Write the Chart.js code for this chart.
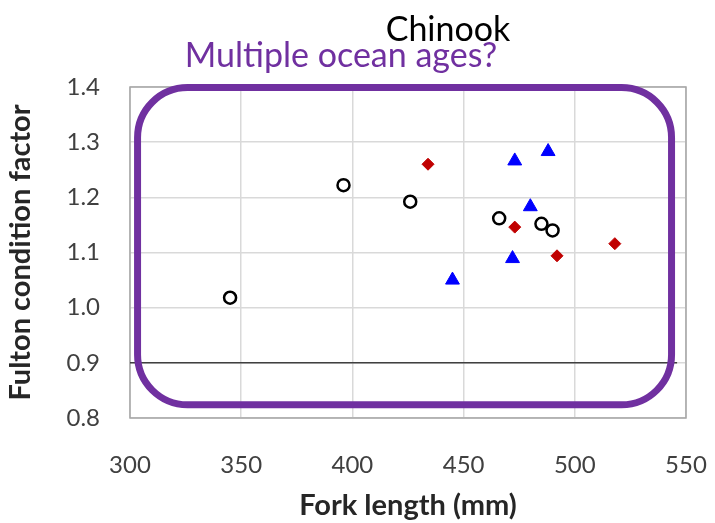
<!DOCTYPE html>
<html>
<head>
<meta charset="utf-8">
<script src="https://cdn.jsdelivr.net/npm/chart.js@4"></script>
<style>
  html, body { margin: 0; padding: 0; background: #fff; }
  #wrap { width: 715px; height: 523px; }
</style>
</head>
<body>
<div id="wrap"><canvas id="chart" width="715" height="523"></canvas></div>
<script>
// values
const circleLength = [345, 396, 426, 466, 485, 490];
const circleFactor = [1.018, 1.222, 1.192, 1.162, 1.152, 1.140];

const triangleLength = [473, 488, 480, 472, 445];
const triangleFactor = [1.266, 1.283, 1.183, 1.089, 1.050];

const diamondLength = [434, 473, 492, 518];
const diamondFactor = [1.260, 1.146, 1.094, 1.116];

const refLineLength = [300, 546];
const refLineFactor = [0.9, 0.9];

const xTicks = [300, 350, 400, 450, 500, 550];
const yTicks = [0.8, 0.9, 1.0, 1.1, 1.2, 1.3, 1.4];

const toPoints = (xs, ys) => xs.map((x, i) => ({ x: x, y: ys[i] }));

const purple = "#7030A0";

// titles, plot border and the purple box drawn on top
const overlay = {
  id: "overlay",
  beforeDatasetsDraw(chart) {
    const { ctx, chartArea: a } = chart;
    ctx.save();
    ctx.strokeStyle = "#a6a6a6";
    ctx.lineWidth = 1.5;
    ctx.strokeRect(a.left, a.top, a.right - a.left, a.bottom - a.top);
    ctx.restore();
  },
  afterDatasetsDraw(chart) {
    const { ctx, scales } = chart;
    const x = scales.x, y = scales.y;
    ctx.save();
    // purple rounded box, placed in data units
    const l = x.getPixelForValue(303.4), r = x.getPixelForValue(543.5);
    const t = y.getPixelForValue(1.399), b = y.getPixelForValue(0.824);
    ctx.strokeStyle = purple;
    ctx.lineWidth = 7;
    ctx.beginPath();
    ctx.roundRect(l, t, r - l, b - t, 50);
    ctx.stroke();

    ctx.textAlign = "center";
    ctx.textBaseline = "middle";
    ctx.fillStyle = "#000";
    ctx.font = "34px Lato";
    ctx.fillText("Chinook", 448, 30);
    ctx.fillStyle = purple;
    ctx.font = "34px Lato";
    ctx.fillText("Multiple ocean ages?", 341, 56);
    ctx.restore();
  }
};

const ctx = document.getElementById("chart").getContext("2d");
new Chart(ctx, {
  type: "scatter",
  data: {
    datasets: [
      {
        label: "ref",
        type: "line",
        data: toPoints(refLineLength, refLineFactor),
        borderColor: "#404040",
        borderWidth: 1.5,
        pointRadius: 0,
        fill: false,
      },
      {
        label: "circles",
        data: toPoints(circleLength, circleFactor),
        pointStyle: "circle",
        pointRadius: 6,
        pointBackgroundColor: "#fff",
        pointBorderColor: "#000",
        pointBorderWidth: 2.5,
      },
      {
        label: "triangles",
        data: toPoints(triangleLength, triangleFactor),
        pointStyle: "triangle",
        pointRadius: 8,
        pointBackgroundColor: "#0000ff",
        pointBorderColor: "#0000ff",
        pointBorderWidth: 1,
      },
      {
        label: "diamonds",
        data: toPoints(diamondLength, diamondFactor),
        pointStyle: "rectRot",
        pointRadius: 6,
        pointBackgroundColor: "#c00000",
        pointBorderColor: "#c00000",
        pointBorderWidth: 1,
      },
    ],
  },
  options: {
    responsive: false,
    animation: false,
    layout: { padding: { top: 87, right: 29, left: 0, bottom: 0 } },
    plugins: {
      legend: { display: false },
      tooltip: { enabled: false },
    },
    scales: {
      x: {
        type: "linear",
        min: 300,
        max: 550,
        afterBuildTicks: (s) => { s.ticks = xTicks.map((v) => ({ value: v })); },
        afterFit: (s) => {
          s.height = 105;
          s.paddingLeft = 0;
          s.paddingRight = 0;
        },
        grid: { color: "#d9d9d9", lineWidth: 1.5, drawTicks: false },
        border: { display: false },
        ticks: {
          padding: 33,
          color: "#404040",
          font: { family: "Lato", size: 24 },
        },
        title: {
          display: true,
          text: "Fork length (mm)",
          color: "#262626",
          font: { family: "Lato", size: 29, weight: "bold" },
          padding: { top: 0, bottom: 0 },
        },
      },
      y: {
        type: "linear",
        min: 0.8,
        max: 1.4,
        afterBuildTicks: (s) => { s.ticks = yTicks.map((v) => ({ value: v })); },
        afterFit: (s) => {
          s.width = 130;
          s.paddingTop = 0;
          s.paddingBottom = 0;
        },
        grid: { color: "#d9d9d9", lineWidth: 1.5, drawTicks: false },
        border: { display: false },
        ticks: {
          padding: 30,
          color: "#404040",
          font: { family: "Lato", size: 24 },
          callback: (v) => Number(v).toFixed(1),
        },
        title: {
          display: true,
          text: "Fulton condition factor",
          color: "#262626",
          font: { family: "Lato", size: 29, weight: "bold" },
          padding: { top: 3, bottom: 0 },
        },
      },
    },
  },
  plugins: [overlay],
});
</script>
</body>
</html>
